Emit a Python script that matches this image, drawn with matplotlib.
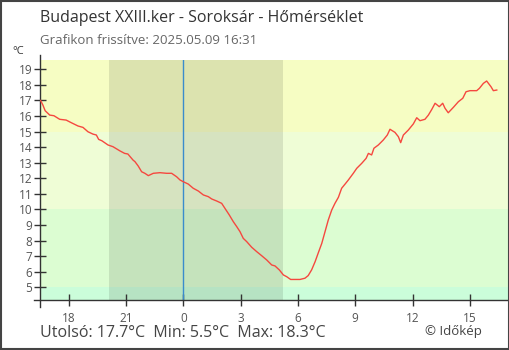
import numpy as np
import matplotlib
matplotlib.use('Agg')
import matplotlib.pyplot as plt
from matplotlib.patches import Rectangle

plt.rcParams['font.family'] = ['Open Sans', 'DejaVu Sans']

# hours relative to midnight of 2025.05.09 (negative = previous evening)
hours = [-7.47, -7.35, -7.23, -6.99, -6.77, -6.47, -6.13, -5.86, -5.51, -5.25,
         -4.99, -4.73, -4.55, -4.43, -4.26, -3.94, -3.68, -3.33, -3.07, -2.90,
         -2.63, -2.53, -2.36, -2.18, -2.01, -1.83, -1.57, -1.22, -0.87, -0.61,
         -0.35, -0.17, 0.00, 0.26, 0.52, 0.79, 1.05, 1.31, 1.49, 1.75,
         2.01, 2.18, 2.41, 2.62, 2.80, 2.97, 3.14, 3.32, 3.58, 3.84,
         4.10, 4.37, 4.63, 4.80, 5.03, 5.24, 5.41, 5.62, 5.85, 6.11,
         6.37, 6.54, 6.72, 6.90, 7.07, 7.25, 7.42, 7.59, 7.77, 7.94,
         8.12, 8.29, 8.47, 8.64, 8.90, 9.08, 9.34, 9.57, 9.69, 9.86,
         9.98, 10.21, 10.47, 10.68, 10.82, 11.08, 11.26, 11.38, 11.52, 11.78,
         12.04, 12.22, 12.39, 12.65, 12.83, 13.01, 13.18, 13.40, 13.58, 13.70,
         13.87, 14.14, 14.40, 14.63, 14.80, 15.01, 15.36, 15.50, 15.71, 15.88,
         16.11, 16.23, 16.41]
temps = [17.0, 16.71, 16.34, 16.06, 16.02, 15.79, 15.74, 15.57, 15.36, 15.27,
         14.99, 14.84, 14.78, 14.5, 14.41, 14.14, 14.03, 13.77, 13.6, 13.56,
         13.17, 13.07, 12.79, 12.42, 12.32, 12.17, 12.32, 12.36, 12.32, 12.32,
         12.1, 11.89, 11.78, 11.63, 11.36, 11.18, 10.93, 10.82, 10.67, 10.54,
         10.39, 10.07, 9.64, 9.21, 8.89, 8.57, 8.14, 7.93, 7.57, 7.29,
         7.03, 6.75, 6.43, 6.37, 6.11, 5.79, 5.68, 5.5, 5.5, 5.5,
         5.58, 5.75, 6.12, 6.64, 7.22, 7.82, 8.57, 9.32, 9.96, 10.39,
         10.78, 11.36, 11.63, 11.89, 12.32, 12.64, 12.96, 13.28, 13.6, 13.5,
         13.93, 14.14, 14.46, 14.78, 15.15, 14.95, 14.67, 14.29, 14.78, 15.1,
         15.49, 15.89, 15.7, 15.79, 16.06, 16.43, 16.82, 16.6, 16.82, 16.5,
         16.21, 16.56, 16.92, 17.14, 17.56, 17.63, 17.63, 17.78, 18.1, 18.25,
         17.88, 17.63, 17.67]

sunset = -3.89   # 20:07
sunrise = 5.22   # 05:13
xticks = [-6, -3, 0, 3, 6, 9, 12, 15]
xlabels = ['18', '21', '0', '3', '6', '9', '12', '15']
yticks = list(range(5, 20))

xmin, xmax = -7.50, 17.05
ymin, ymax = 4.18, 19.6

fig = plt.figure(figsize=(5.1, 3.5), dpi=100)
ax = fig.add_axes([40 / 510, 50 / 350, 469 / 510, 240 / 350])

# temperature bands
ax.axhspan(15, ymax, color='#f6fdc3', lw=0, zorder=0)
ax.axhspan(10, 15, color='#effdd6', lw=0, zorder=0)
ax.axhspan(5, 10, color='#dcfdd2', lw=0, zorder=0)
ax.axhspan(ymin, 5, color='#cbfdda', lw=0, zorder=0)

# night
ax.axvspan(sunset, sunrise, color='black', alpha=0.1, lw=0, zorder=1)
ax.axvline(0, color='#3a8ccc', lw=1, zorder=2)

ax.plot(hours, temps, color='#f5483f', lw=1.0, zorder=3)

ax.set_xlim(xmin, xmax)
ax.set_ylim(ymin, ymax)
ax.set_xticks(xticks)
ax.set_xticklabels(xlabels)
ax.set_yticks(yticks)

for s in ['top', 'right']:
    ax.spines[s].set_visible(False)
for s in ['left', 'bottom']:
    ax.spines[s].set_color('#333333')
    ax.spines[s].set_linewidth(1)
ax.spines['left'].set_bounds(ymin - 0.45, ymax + 0.32)
ax.spines['bottom'].set_bounds(xmin - 0.32, xmax)

ax.tick_params(axis='both', direction='inout', length=9, width=1,
               color='#333333', labelcolor='#555555', labelsize=8.5)
ax.tick_params(axis='x', pad=4)
ax.tick_params(axis='y', pad=1)

fig.text(40 / 510, 1 - 18 / 350, 'Budapest XXIII.ker - Soroksár - Hőmérséklet',
         fontsize=11.5, color='#333333', va='center', ha='left')
fig.text(40 / 510, 1 - 41 / 350, 'Grafikon frissítve: 2025.05.09 16:31',
         fontsize=9.5, color='#666666', va='center', ha='left')
fig.text(12 / 510, 1 - 51 / 350, '°C', fontsize=8, color='#333333',
         va='center', ha='left')
fig.text(40 / 510, 1 - 333 / 350, 'Utolsó: 17.7°C  Min: 5.5°C  Max: 18.3°C',
         fontsize=11.5, color='#444444', va='center', ha='left')
fig.text(482 / 510, 1 - 332 / 350, '© Időkép', fontsize=9.5, color='#444444',
         va='center', ha='right')

fig.patches.append(Rectangle((0.001, 0.002), 0.997, 0.996, transform=fig.transFigure,
                             fill=False, edgecolor='#444444', lw=1.5))

fig.savefig('out.png', dpi=100)
